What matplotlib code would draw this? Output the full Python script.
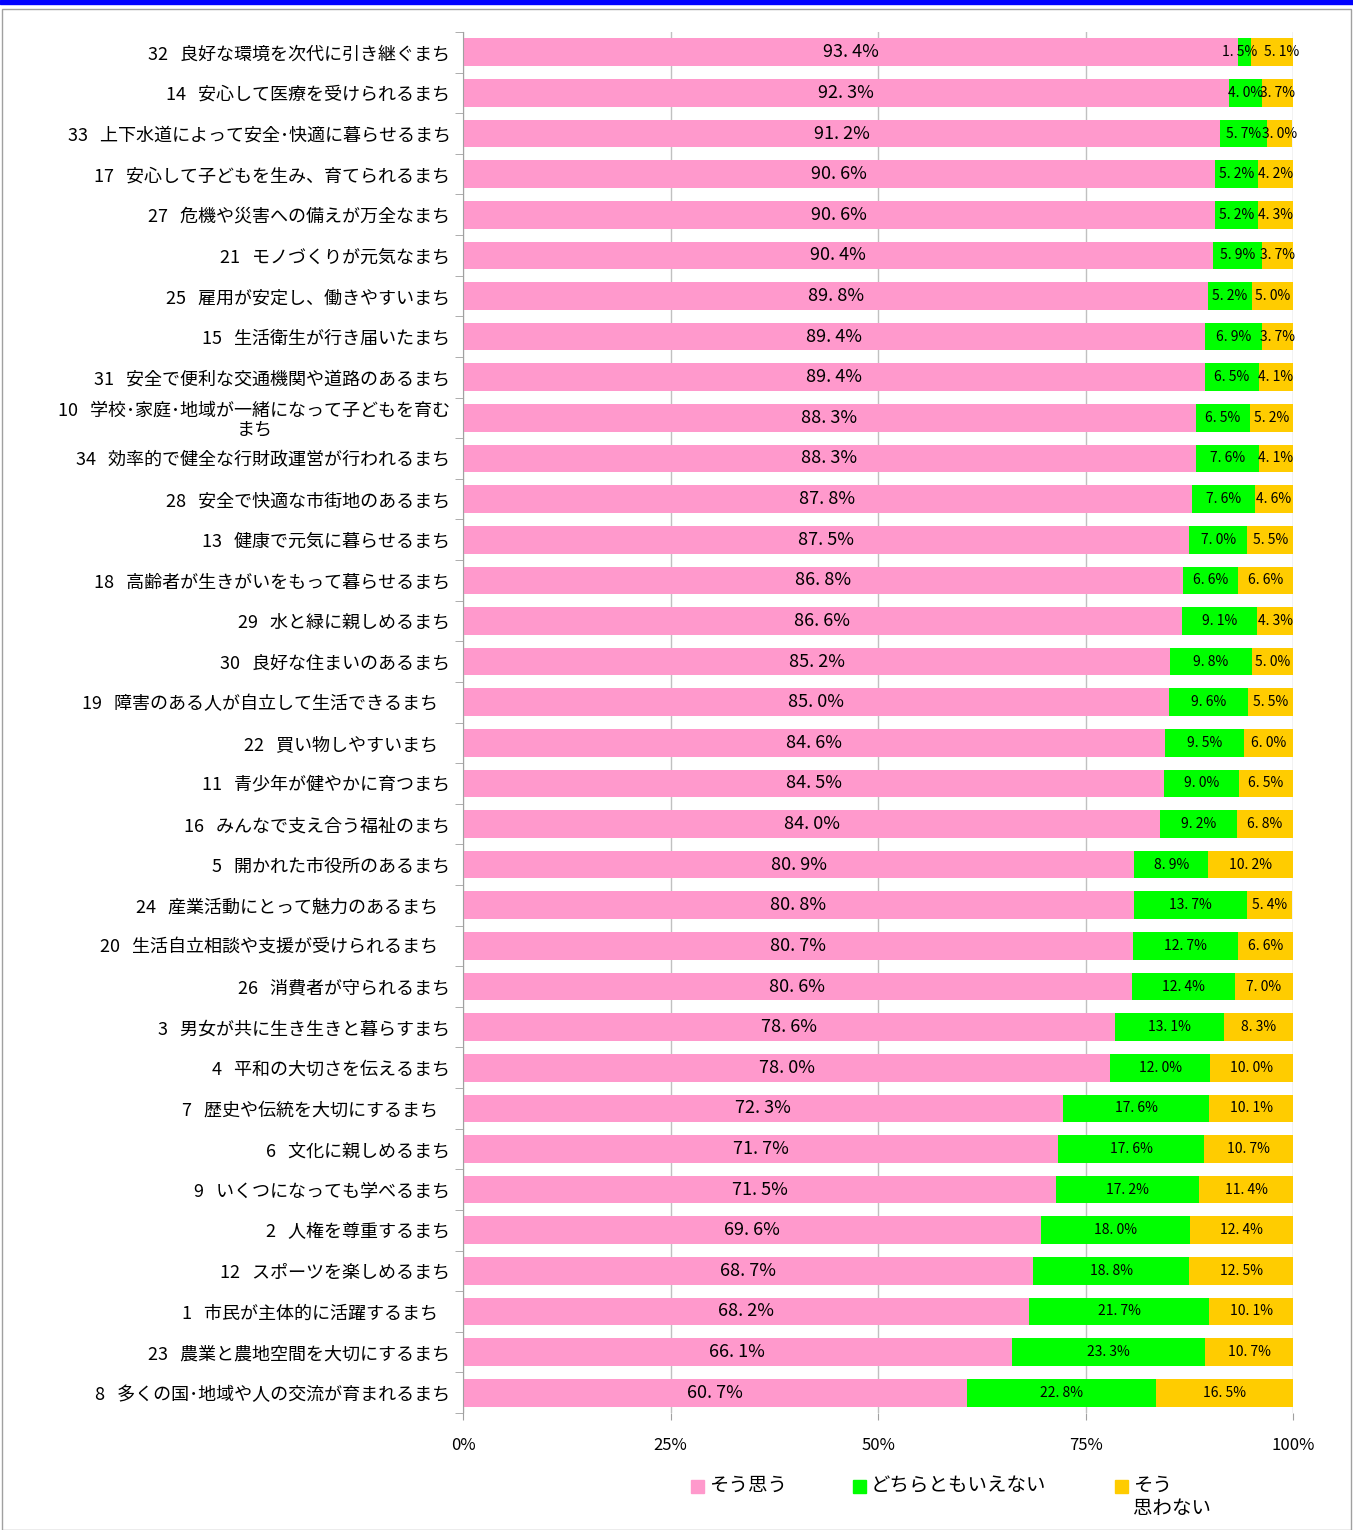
import matplotlib
matplotlib.use("Agg")
import matplotlib.pyplot as plt
import numpy as np
from matplotlib.patches import Rectangle

plt.rcParams['font.family'] = ['Noto Sans CJK JP', 'DejaVu Sans']

labels = [
    "32   良好な環境を次代に引き継ぐまち",
    "14   安心して医療を受けられるまち",
    "33   上下水道によって安全･快適に暮らせるまち",
    "17   安心して子どもを生み、育てられるまち",
    "27   危機や災害への備えが万全なまち",
    "21   モノづくりが元気なまち",
    "25   雇用が安定し、働きやすいまち",
    "15   生活衛生が行き届いたまち",
    "31   安全で便利な交通機関や道路のあるまち",
    "10   学校･家庭･地域が一緒になって子どもを育む\nまち",
    "34   効率的で健全な行財政運営が行われるまち",
    "28   安全で快適な市街地のあるまち",
    "13   健康で元気に暮らせるまち",
    "18   高齢者が生きがいをもって暮らせるまち",
    "29   水と緑に親しめるまち",
    "30   良好な住まいのあるまち",
    "19   障害のある人が自立して生活できるまち   ",
    "22   買い物しやすいまち   ",
    "11   青少年が健やかに育つまち",
    "16   みんなで支え合う福祉のまち",
    "5   開かれた市役所のあるまち",
    "24   産業活動にとって魅力のあるまち   ",
    "20   生活自立相談や支援が受けられるまち   ",
    "26   消費者が守られるまち",
    "3   男女が共に生き生きと暮らすまち",
    "4   平和の大切さを伝えるまち",
    "7   歴史や伝統を大切にするまち   ",
    "6   文化に親しめるまち",
    "9   いくつになっても学べるまち",
    "2   人権を尊重するまち",
    "12   スポーツを楽しめるまち",
    "1   市民が主体的に活躍するまち   ",
    "23   農業と農地空間を大切にするまち",
    "8   多くの国･地域や人の交流が育まれるまち",
]

agree = [93.4, 92.3, 91.2, 90.6, 90.6, 90.4, 89.8, 89.4, 89.4, 88.3, 88.3, 87.8,
         87.5, 86.8, 86.6, 85.2, 85.0, 84.6, 84.5, 84.0, 80.9, 80.8, 80.7, 80.6,
         78.6, 78.0, 72.3, 71.7, 71.5, 69.6, 68.7, 68.2, 66.1, 60.7]
neutral = [1.5, 4.0, 5.7, 5.2, 5.2, 5.9, 5.2, 6.9, 6.5, 6.5, 7.6, 7.6,
           7.0, 6.6, 9.1, 9.8, 9.6, 9.5, 9.0, 9.2, 8.9, 13.7, 12.7, 12.4,
           13.1, 12.0, 17.6, 17.6, 17.2, 18.0, 18.8, 21.7, 23.3, 22.8]
disagree = [5.1, 3.7, 3.0, 4.2, 4.3, 3.7, 5.0, 3.7, 4.1, 5.2, 4.1, 4.6,
            5.5, 6.6, 4.3, 5.0, 5.5, 6.0, 6.5, 6.8, 10.2, 5.4, 6.6, 7.0,
            8.3, 10.0, 10.1, 10.7, 11.4, 12.4, 12.5, 10.1, 10.7, 16.5]

series = ["そう思う", "どちらともいえない", "そう\n思わない"]
colors = ["#FF99CC", "#00FF00", "#FFCC00"]

W, H = 1353, 1530
fig = plt.figure(figsize=(W / 100, H / 100), dpi=100)
ax = fig.add_axes([463 / W, 1 - 1413 / H, 830 / W, (1413 - 32) / H])

# frame around the figure
fig.patches.append(Rectangle((0, 1 - 4 / H), 1, 4 / H, transform=fig.transFigure,
                             color="#0000FF", zorder=0))
fig.patches.append(Rectangle((2 / W, 0), (W - 4) / W, 1 - 9 / H, transform=fig.transFigure,
                             fill=False, ec="#A0A0A0", lw=1, zorder=0))

y = np.arange(len(labels))
a = np.array(agree)
n = np.array(neutral)
d = np.array(disagree)
bh = 0.68

ax.barh(y, a, height=bh, color=colors[0], zorder=2)
ax.barh(y, n, left=a, height=bh, color=colors[1], zorder=2)
ax.barh(y, d, left=a + n, height=bh, color=colors[2], zorder=2)

def fmt(v):
    return f"{v:.1f}".replace(".", ". ") + "%"

for i in range(len(labels)):
    xg = a[i] + n[i] / 2
    xy = a[i] + n[i] + d[i] / 2
    if n[i] < 3:  # very thin green segment: push the two labels apart
        xg -= 0.6
        xy += 1.2
    ax.text(a[i] / 2, y[i], fmt(a[i]), ha="center", va="center", fontsize=13, zorder=3)
    ax.text(xg, y[i], fmt(n[i]), ha="center", va="center", fontsize=10, zorder=3)
    ax.text(xy, y[i], fmt(d[i]), ha="center", va="center", fontsize=10, zorder=3)

ax.set_xlim(0, 100)
ax.set_ylim(len(labels) - 0.5, -0.5)
ax.set_xticks([0, 25, 50, 75, 100])
ax.set_xticklabels(["0%", "25%", "50%", "75%", "100%"], fontsize=12)
ax.set_yticks(y)
ax.set_yticklabels(labels, fontsize=13, linespacing=1.05, multialignment="center")
ax.set_yticks(np.arange(len(labels) + 1) - 0.5, minor=True)
ax.tick_params(axis="y", which="major", length=0, pad=9)
ax.tick_params(axis="y", which="minor", length=6, color="#A0A0A0")
ax.tick_params(axis="x", length=5, color="#A0A0A0", pad=12)
ax.xaxis.grid(True, color="#C0C0C0", lw=1, zorder=0)
for s in ["top", "bottom", "right"]:
    ax.spines[s].set_visible(False)
ax.spines["left"].set_color("#A0A0A0")

# legend below the axis
leg_x = [691, 853, 1115]
for lx, name, c in zip(leg_x, series, colors):
    fig.patches.append(Rectangle((lx / W, 1 - 1493 / H), 13 / W, 13 / H,
                                 transform=fig.transFigure, color=c))
    fig.text((lx + 18) / W, 1 - 1475 / H, name, ha="left", va="top",
             fontsize=14, linespacing=1.1)

fig.savefig("out.png", dpi=100)
